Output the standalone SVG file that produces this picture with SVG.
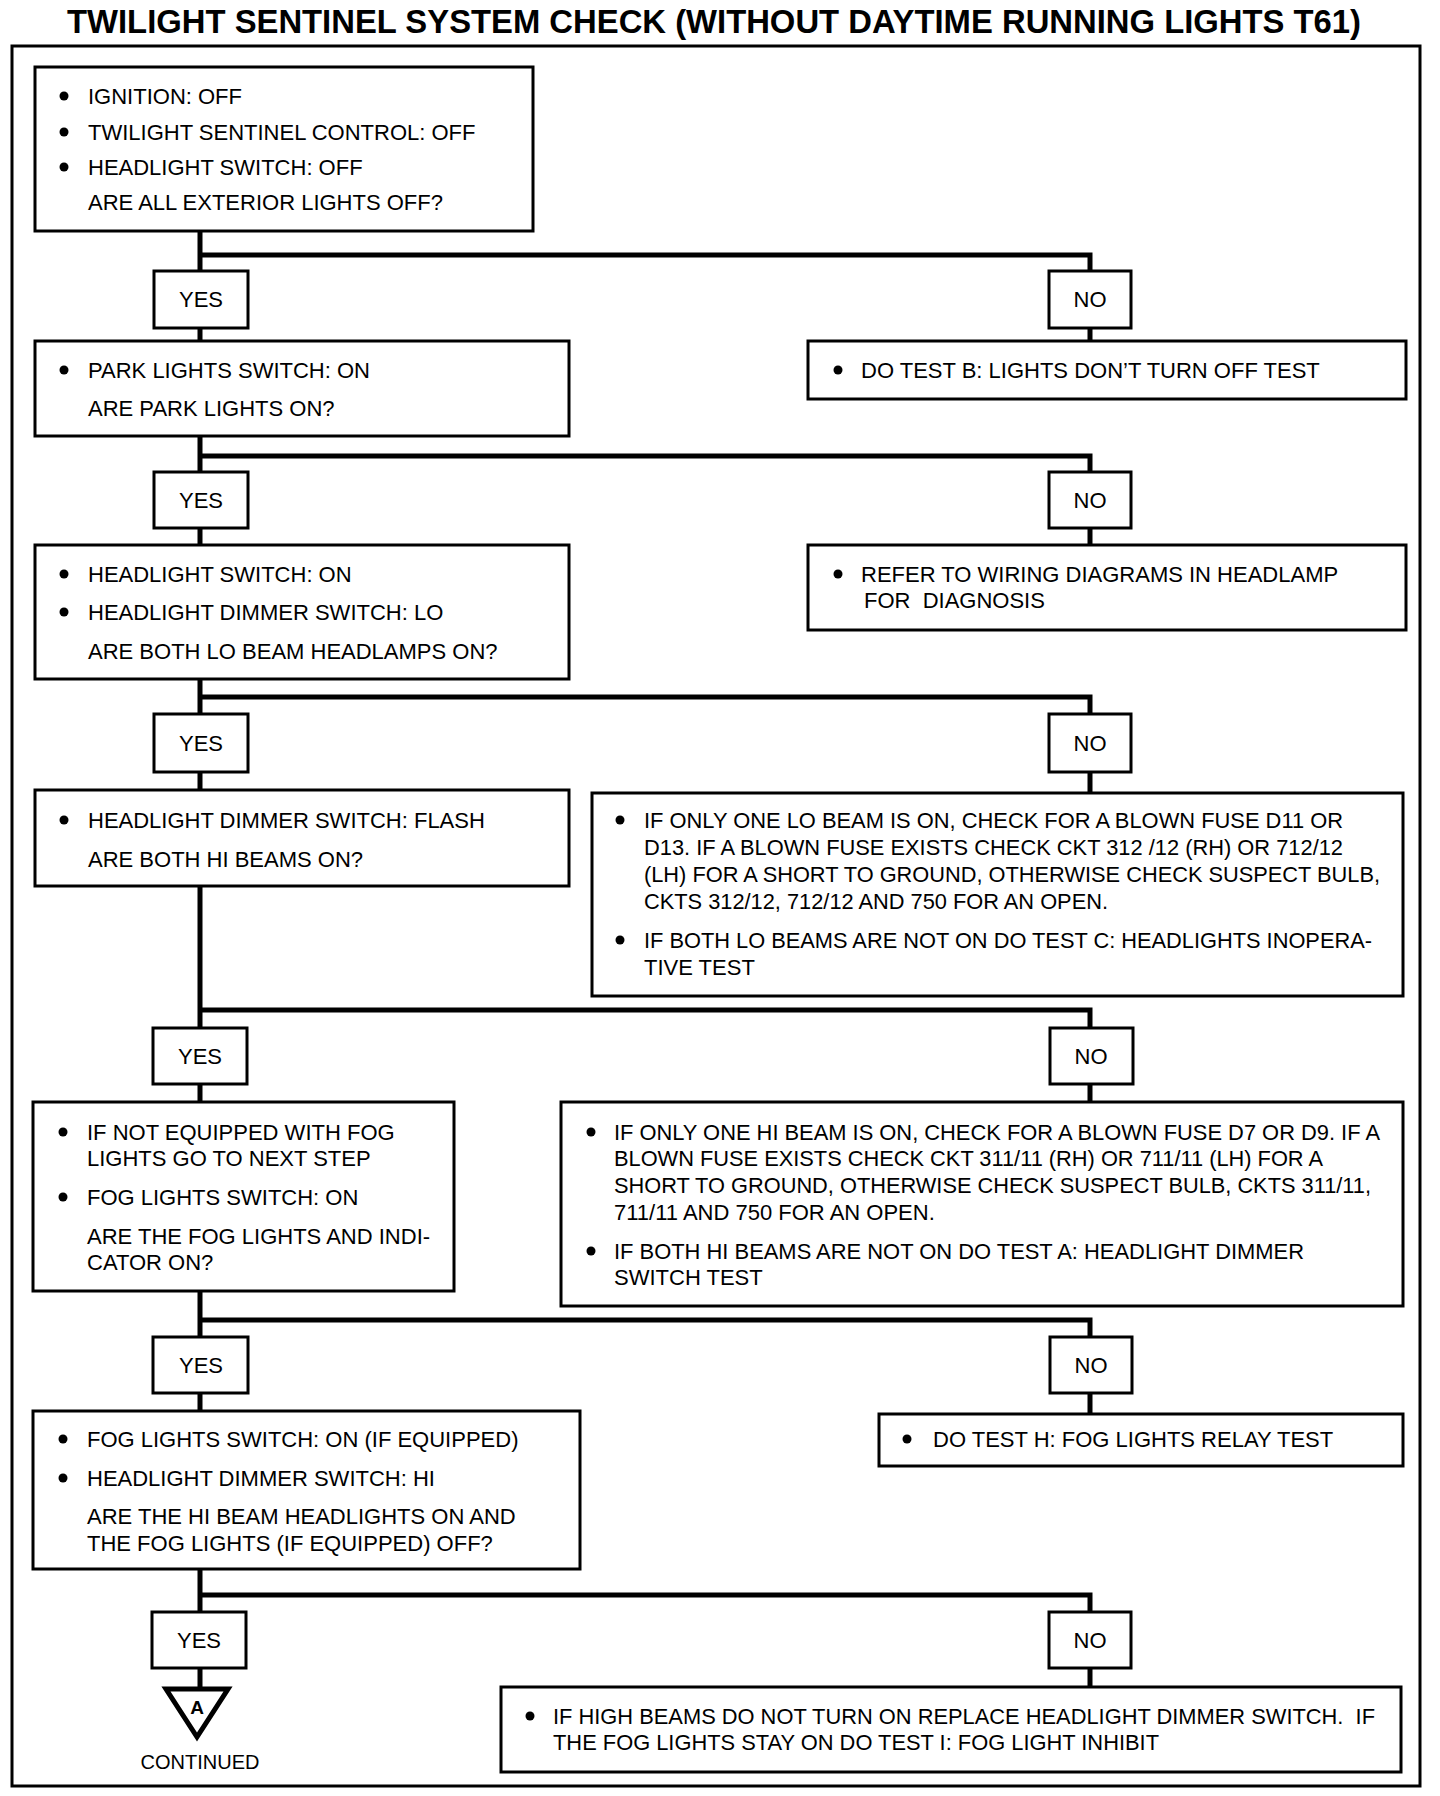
<svg xmlns="http://www.w3.org/2000/svg" width="1440" height="1796" viewBox="0 0 1440 1796">
<style>
.box{fill:#fff;stroke:#000;stroke-width:3}
.lab{fill:#fff;stroke:#000;stroke-width:3}
.conn{fill:none;stroke:#000;stroke-width:5;stroke-linejoin:miter}
.frame{fill:none;stroke:#000;stroke-width:3}
text{font-family:"Liberation Sans",Arial,sans-serif;font-size:22px;fill:#000}
.c{text-anchor:middle}
.title{font-weight:bold;font-size:33px}
.dot{fill:#000}
</style>
<rect width="1440" height="1796" fill="#fff"/>
<text class="title c" x="714" y="33" textLength="1294" lengthAdjust="spacingAndGlyphs">TWILIGHT SENTINEL SYSTEM CHECK (WITHOUT DAYTIME RUNNING LIGHTS T61)</text>
<rect class="frame" x="12" y="46" width="1408" height="1740"/>

<g id="connectors">
<path class="conn" d="M200 231V1687"/>
<path class="conn" d="M200 255H1090V341"/>
<path class="conn" d="M200 456H1090V545"/>
<path class="conn" d="M200 697H1090V793"/>
<path class="conn" d="M200 1010H1090V1102"/>
<path class="conn" d="M200 1320H1090V1414"/>
<path class="conn" d="M200 1595H1090V1687"/>
</g>

<g id="n1">
<rect class="box" x="35" y="67" width="498" height="164"/>
<circle class="dot" cx="64" cy="96" r="4.5"/><text x="88" y="104">IGNITION: OFF</text>
<circle class="dot" cx="64" cy="132" r="4.5"/><text x="88" y="140">TWILIGHT SENTINEL CONTROL: OFF</text>
<circle class="dot" cx="64" cy="167" r="4.5"/><text x="88" y="175">HEADLIGHT SWITCH: OFF</text>
<text x="88" y="210">ARE ALL EXTERIOR LIGHTS OFF?</text>
</g>
<g id="yes1"><rect class="lab" x="154" y="271" width="94" height="57"/><text class="c" x="201" y="307">YES</text></g>
<g id="no1"><rect class="lab" x="1049" y="271" width="82" height="57"/><text class="c" x="1090" y="307">NO</text></g>

<g id="n2">
<rect class="box" x="35" y="341" width="534" height="95"/>
<circle class="dot" cx="64" cy="370" r="4.5"/><text x="88" y="378">PARK LIGHTS SWITCH: ON</text>
<text x="88" y="416">ARE PARK LIGHTS ON?</text>
</g>
<g id="nB">
<rect class="box" x="808" y="341" width="598" height="58"/>
<circle class="dot" cx="838" cy="370" r="4.5"/><text x="861" y="378">DO TEST B: LIGHTS DON’T TURN OFF TEST</text>
</g>
<g id="yes2"><rect class="lab" x="154" y="472" width="94" height="56"/><text class="c" x="201" y="508">YES</text></g>
<g id="no2"><rect class="lab" x="1049" y="472" width="82" height="56"/><text class="c" x="1090" y="508">NO</text></g>

<g id="n3">
<rect class="box" x="35" y="545" width="534" height="134"/>
<circle class="dot" cx="64" cy="574" r="4.5"/><text x="88" y="582">HEADLIGHT SWITCH: ON</text>
<circle class="dot" cx="64" cy="612" r="4.5"/><text x="88" y="620">HEADLIGHT DIMMER SWITCH: LO</text>
<text x="88" y="659">ARE BOTH LO BEAM HEADLAMPS ON?</text>
</g>
<g id="nRefer">
<rect class="box" x="808" y="545" width="598" height="85"/>
<circle class="dot" cx="838" cy="574" r="4.5"/><text x="861" y="582">REFER TO WIRING DIAGRAMS IN HEADLAMP</text>
<text x="864" y="608" xml:space="preserve">FOR  DIAGNOSIS</text>
</g>
<g id="yes3"><rect class="lab" x="154" y="714" width="94" height="58"/><text class="c" x="201" y="751">YES</text></g>
<g id="no3"><rect class="lab" x="1049" y="714" width="82" height="58"/><text class="c" x="1090" y="751">NO</text></g>

<g id="n4">
<rect class="box" x="35" y="790" width="534" height="96"/>
<circle class="dot" cx="64" cy="820" r="4.5"/><text x="88" y="828">HEADLIGHT DIMMER SWITCH: FLASH</text>
<text x="88" y="867">ARE BOTH HI BEAMS ON?</text>
</g>
<g id="nLO">
<rect class="box" x="592" y="793" width="811" height="203"/>
<circle class="dot" cx="620" cy="820" r="4.5"/><text x="644" y="828" textLength="699" lengthAdjust="spacingAndGlyphs">IF ONLY ONE LO BEAM IS ON, CHECK FOR A BLOWN FUSE D11 OR</text>
<text x="644" y="855" textLength="699" lengthAdjust="spacingAndGlyphs">D13. IF A BLOWN FUSE EXISTS CHECK CKT 312 /12 (RH) OR 712/12</text>
<text x="644" y="882" textLength="736" lengthAdjust="spacingAndGlyphs">(LH) FOR A SHORT TO GROUND, OTHERWISE CHECK SUSPECT BULB,</text>
<text x="644" y="909" textLength="464" lengthAdjust="spacingAndGlyphs">CKTS 312/12, 712/12 AND 750 FOR AN OPEN.</text>
<circle class="dot" cx="620" cy="940" r="4.5"/><text x="644" y="948" textLength="728" lengthAdjust="spacingAndGlyphs">IF BOTH LO BEAMS ARE NOT ON DO TEST C: HEADLIGHTS INOPERA-</text>
<text x="644" y="975">TIVE TEST</text>
</g>
<g id="yes4"><rect class="lab" x="153" y="1028" width="94" height="56"/><text class="c" x="200" y="1064">YES</text></g>
<g id="no4"><rect class="lab" x="1050" y="1028" width="83" height="56"/><text class="c" x="1091" y="1064">NO</text></g>

<g id="n5">
<rect class="box" x="33" y="1102" width="421" height="189"/>
<circle class="dot" cx="63" cy="1132" r="4.5"/><text x="87" y="1140">IF NOT EQUIPPED WITH FOG</text>
<text x="87" y="1166">LIGHTS GO TO NEXT STEP</text>
<circle class="dot" cx="63" cy="1197" r="4.5"/><text x="87" y="1205">FOG LIGHTS SWITCH: ON</text>
<text x="87" y="1244">ARE THE FOG LIGHTS AND INDI-</text>
<text x="87" y="1270">CATOR ON?</text>
</g>
<g id="nHI">
<rect class="box" x="561" y="1102" width="842" height="204"/>
<circle class="dot" cx="591" cy="1132" r="4.5"/><text x="614" y="1140" textLength="766" lengthAdjust="spacingAndGlyphs">IF ONLY ONE HI BEAM IS ON, CHECK FOR A BLOWN FUSE D7 OR D9. IF A</text>
<text x="614" y="1166" textLength="709" lengthAdjust="spacingAndGlyphs">BLOWN FUSE EXISTS CHECK CKT 311/11 (RH) OR 711/11 (LH) FOR A</text>
<text x="614" y="1193" textLength="757" lengthAdjust="spacingAndGlyphs">SHORT TO GROUND, OTHERWISE CHECK SUSPECT BULB, CKTS 311/11,</text>
<text x="614" y="1220">711/11 AND 750 FOR AN OPEN.</text>
<circle class="dot" cx="591" cy="1251" r="4.5"/><text x="614" y="1259" textLength="690" lengthAdjust="spacingAndGlyphs">IF BOTH HI BEAMS ARE NOT ON DO TEST A: HEADLIGHT DIMMER</text>
<text x="614" y="1285">SWITCH TEST</text>
</g>
<g id="yes5"><rect class="lab" x="153" y="1337" width="95" height="56"/><text class="c" x="201" y="1373">YES</text></g>
<g id="no5"><rect class="lab" x="1050" y="1337" width="82" height="56"/><text class="c" x="1091" y="1373">NO</text></g>

<g id="n6">
<rect class="box" x="33" y="1411" width="547" height="158"/>
<circle class="dot" cx="63" cy="1439" r="4.5"/><text x="87" y="1447">FOG LIGHTS SWITCH: ON (IF EQUIPPED)</text>
<circle class="dot" cx="63" cy="1478" r="4.5"/><text x="87" y="1486">HEADLIGHT DIMMER SWITCH: HI</text>
<text x="87" y="1524">ARE THE HI BEAM HEADLIGHTS ON AND</text>
<text x="87" y="1551">THE FOG LIGHTS (IF EQUIPPED) OFF?</text>
</g>
<g id="nH">
<rect class="box" x="879" y="1414" width="524" height="52"/>
<circle class="dot" cx="907" cy="1439" r="4.5"/><text x="933" y="1447">DO TEST H: FOG LIGHTS RELAY TEST</text>
</g>
<g id="yes6"><rect class="lab" x="152" y="1612" width="94" height="56"/><text class="c" x="199" y="1648">YES</text></g>
<g id="no6"><rect class="lab" x="1049" y="1612" width="82" height="56"/><text class="c" x="1090" y="1648">NO</text></g>

<g id="contA">
<polygon points="166,1689 228,1689 197,1737" fill="#fff" stroke="#000" stroke-width="5" stroke-linejoin="miter"/>
<text class="c" x="197" y="1714" style="font-weight:bold;font-size:19px">A</text>
<text class="c" x="200" y="1769" style="font-size:20px">CONTINUED</text>
</g>
<g id="nLast">
<rect class="box" x="501" y="1687" width="900" height="85"/>
<circle class="dot" cx="530" cy="1716" r="4.5"/><text x="553" y="1724" textLength="822" lengthAdjust="spacingAndGlyphs" xml:space="preserve">IF HIGH BEAMS DO NOT TURN ON REPLACE HEADLIGHT DIMMER SWITCH.  IF</text>
<text x="553" y="1750" textLength="606" lengthAdjust="spacingAndGlyphs">THE FOG LIGHTS STAY ON DO TEST I: FOG LIGHT INHIBIT</text>
</g>
</svg>
